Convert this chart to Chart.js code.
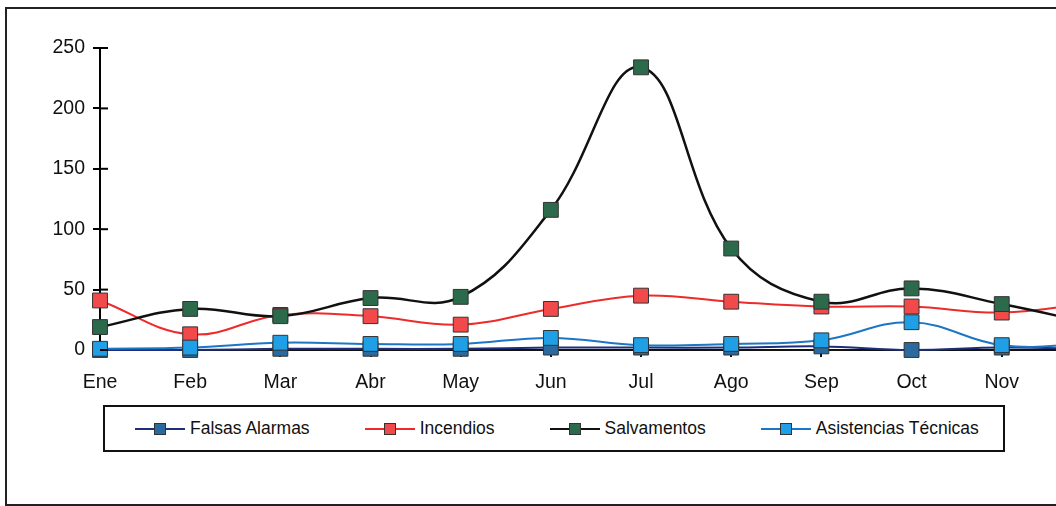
<!DOCTYPE html>
<html>
<head>
<meta charset="utf-8">
<script src="https://cdn.jsdelivr.net/npm/chart.js@4"></script>
<style>
  html, body { margin: 0; padding: 0; background: #fff; overflow: hidden; }
  body { width: 1056px; height: 506px; position: relative; font-family: "Liberation Sans", Arial, sans-serif; }
  #frame { position: absolute; left: 5px; top: 7px; width: 1200px; height: 495px; border: 2px solid #222; }
  #wrap { position: absolute; left: 0; top: 0; width: 1120px; height: 400px; }
  #legend {
    position: absolute; left: 103px; top: 405px; width: 868px; height: 43px;
    border: 2px solid #111; display: flex; align-items: center;
    padding-left: 30px; box-sizing: content-box; gap: 55px;
  }
  .item { display: flex; align-items: center; font-size: 17.5px; color: #111; white-space: nowrap; }
  .sample { position: relative; width: 50px; height: 14px; margin-right: 5px; }
  .sample .ln { position: absolute; left: 0; right: 0; top: 6px; height: 2px; }
  .sample .mk { position: absolute; left: 19px; top: 1px; width: 12px; height: 12px; box-sizing: border-box; border: 1px solid #333; }
</style>
</head>
<body>
<div id="frame"></div>
<div id="wrap"><canvas id="chart" width="1120" height="400"></canvas></div>
<div id="legend"></div>
<script>
// datos
const months = ['Ene', 'Feb', 'Mar', 'Abr', 'May', 'Jun', 'Jul', 'Ago', 'Sep', 'Oct', 'Nov', 'Dic'];
const falsasAlarmas = [0, 0, 1, 1, 1, 2, 2, 2, 3, 0, 2, 1];
const incendios = [41, 13, 29, 28, 21, 34, 45, 40, 36, 36, 31, 39];
const salvamentos = [19, 34, 28, 43, 44, 116, 234, 84, 40, 51, 38, 22];
const asistencias = [1, 2, 6, 5, 5, 10, 4, 5, 8, 23, 4, 5];
const yTicks = [0, 50, 100, 150, 200, 250];

const series = [
  { label: 'Falsas Alarmas', data: falsasAlarmas, line: '#1c2f78', marker: '#2a6a9e', width: 2, order: 4 },
  { label: 'Incendios', data: incendios, line: '#ee2b2b', marker: '#f24a4a', width: 2, order: 3 },
  { label: 'Salvamentos', data: salvamentos, line: '#111111', marker: '#2c6a4c', width: 2.5, order: 2 },
  { label: 'Asistencias Técnicas', data: asistencias, line: '#1b76c6', marker: '#1e9fe6', width: 2, order: 1 }
];

const font = { family: '"Liberation Sans", Arial, sans-serif', size: 19.5 };

// ticks that cross the y axis (Excel style)
const crossTicks = {
  id: 'crossTicks',
  afterDraw(chart) {
    const ctx = chart.ctx;
    const y = chart.scales.y;
    ctx.save();
    ctx.strokeStyle = '#000';
    ctx.lineWidth = 2;
    yTicks.forEach(v => {
      const py = y.getPixelForValue(v);
      ctx.beginPath();
      ctx.moveTo(y.right, py);
      ctx.lineTo(y.right + 8, py);
      ctx.stroke();
    });
    ctx.restore();
  }
};

new Chart(document.getElementById('chart').getContext('2d'), {
  type: 'line',
  data: {
    labels: months,
    datasets: series.map(s => ({
      label: s.label,
      data: s.data,
      order: s.order,
      borderColor: s.line,
      borderWidth: s.width,
      backgroundColor: s.marker,
      pointStyle: 'rect',
      pointRadius: 10.5,
      pointBorderColor: '#333',
      pointBorderWidth: 1,
      tension: 0.4,
      fill: false,
      clip: false
    }))
  },
  options: {
    responsive: false,
    animation: false,
    layout: { padding: { top: 48, right: 26, left: 0, bottom: 0 } },
    plugins: { legend: { display: false }, tooltip: { enabled: false } },
    scales: {
      x: {
        offset: false,
        grid: { drawOnChartArea: false, tickLength: 7, color: '#111', lineWidth: 2 },
        border: { color: '#111', width: 2 },
        ticks: { color: '#111', font: font, padding: 14, maxRotation: 0, autoSkip: false },
        afterFit: s => { s.height = 50; }
      },
      y: {
        min: 0, max: 250,
        afterBuildTicks: s => { s.ticks = yTicks.map(v => ({ value: v })); },
        grid: { drawOnChartArea: false, tickLength: 7, color: '#000', lineWidth: 2 },
        border: { color: '#000', width: 2 },
        ticks: { color: '#111', font: font, padding: 8 },
        afterFit: s => { s.width = 100; }
      }
    }
  },
  plugins: [crossTicks]
});

// leyenda en caja, como en el original
const legend = document.getElementById('legend');
series.forEach(s => {
  const item = document.createElement('div');
  item.className = 'item';
  item.innerHTML = '<span class="sample"><span class="ln" style="background:' + s.line + '"></span>' +
    '<span class="mk" style="background:' + s.marker + '"></span></span>' + s.label;
  legend.appendChild(item);
});
</script>
</body>
</html>
